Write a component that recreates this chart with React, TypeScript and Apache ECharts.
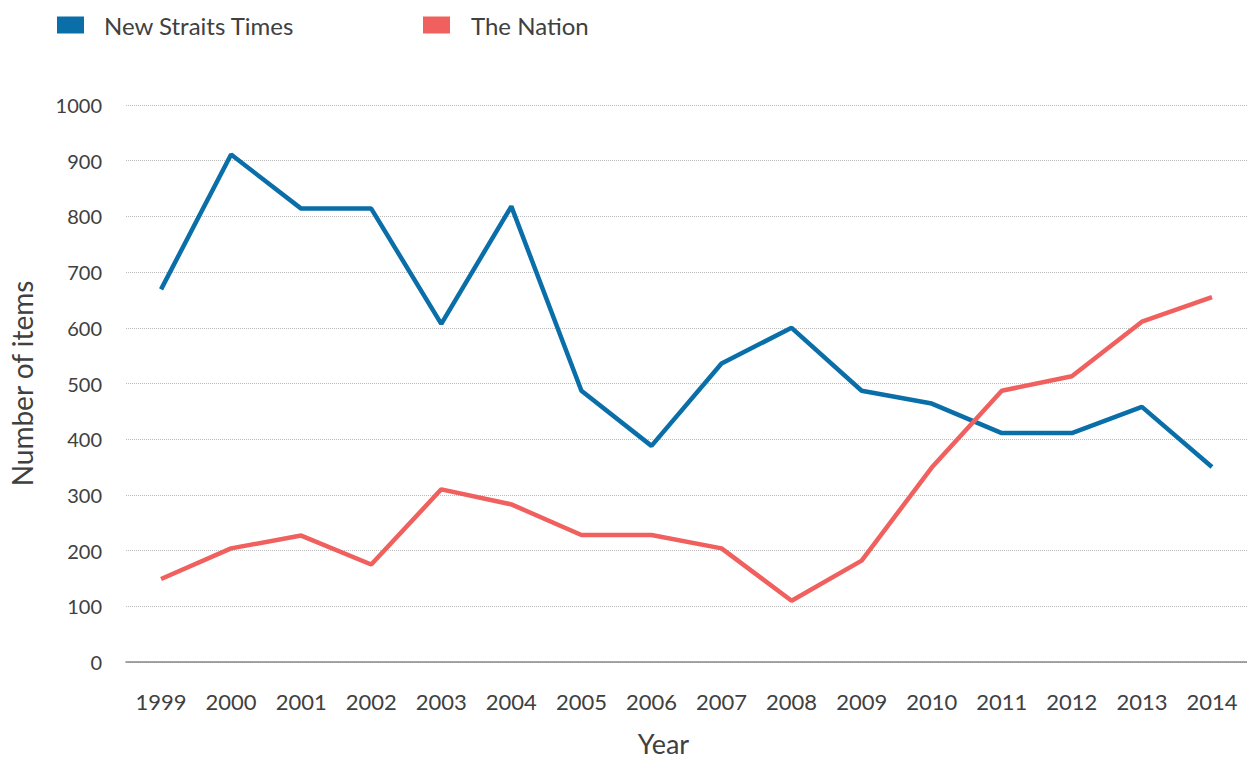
import React, { useEffect, useRef } from "react";
import * as echarts from "echarts";

const years = ["1999","2000","2001","2002","2003","2004","2005","2006","2007","2008","2009","2010","2011","2012","2013","2014"];
const nstValues = [669, 911, 814, 814, 607, 818, 487, 388, 536, 600, 487, 464, 411, 411, 458, 350];
const nationValues = [149, 204, 227, 175, 310, 283, 228, 228, 204, 110, 182, 349, 487, 513, 611, 655];
const seriesNames = ["New Straits Times", "The Nation"];
const colors = ["#0A6FA8", "#F0605E"];

const FONT = "Lato, 'Open Sans', sans-serif";

export default function App() {
  const ref = useRef<HTMLDivElement>(null);
  useEffect(() => {
    document.body.style.margin = "0";
    const chart = echarts.init(ref.current!, null, { renderer: "svg" });
    chart.setOption({
      animation: false,
      textStyle: { fontFamily: FONT },
      legend: [
        {
          data: [seriesNames[0]],
          left: 52,
          top: 6,
          icon: "rect",
          itemWidth: 27,
          itemHeight: 17,
          textStyle: { fontSize: 24, lineHeight: 28, color: "#404040", fontFamily: FONT, padding: [0, 0, 0, 15] },
        },
        {
          data: [seriesNames[1]],
          left: 418,
          top: 6,
          icon: "rect",
          itemWidth: 27,
          itemHeight: 17,
          textStyle: { fontSize: 24, lineHeight: 28, color: "#404040", fontFamily: FONT, padding: [0, 0, 0, 16] },
        },
      ],
      grid: { left: 125, right: -3, top: 105, bottom: 93, containLabel: false },
      xAxis: {
        type: "category",
        data: years,
        boundaryGap: true,
        name: "Year",
        nameLocation: "middle",
        nameGap: 68,
        nameTextStyle: { fontSize: 27, color: "#404040", fontFamily: FONT, padding: [0, 46, 0, 0] },
        axisLine: { show: true, lineStyle: { color: "#888888", width: 1.5 } },
        axisTick: { show: false },
        axisLabel: { fontSize: 22, color: "#404040", margin: 28, fontFamily: FONT },
        splitLine: { show: false },
      },
      yAxis: {
        type: "value",
        min: 0,
        max: 1000,
        interval: 100,
        name: "Number of items",
        nameLocation: "middle",
        nameGap: 90,
        nameTextStyle: { fontSize: 28, color: "#404040", fontFamily: FONT },
        axisLine: { show: false },
        axisTick: { show: false },
        axisLabel: { fontSize: 20, color: "#404040", margin: 24, fontFamily: FONT, formatter: (v: number) => String(v) },
        splitLine: { show: true, lineStyle: { color: "#BBBBBB", type: "dotted", width: 1 } },
      },
      series: [
        {
          name: seriesNames[0],
          type: "line",
          data: nstValues,
          color: colors[0],
          symbol: "none",
          lineStyle: { width: 4.5, color: colors[0] },
        },
        {
          name: seriesNames[1],
          type: "line",
          data: nationValues,
          color: colors[1],
          symbol: "none",
          lineStyle: { width: 4.5, color: colors[1] },
        },
      ],
    });
    return () => chart.dispose();
  }, []);
  return <div ref={ref} style={{ width: 1247, height: 762 }} />;
}
